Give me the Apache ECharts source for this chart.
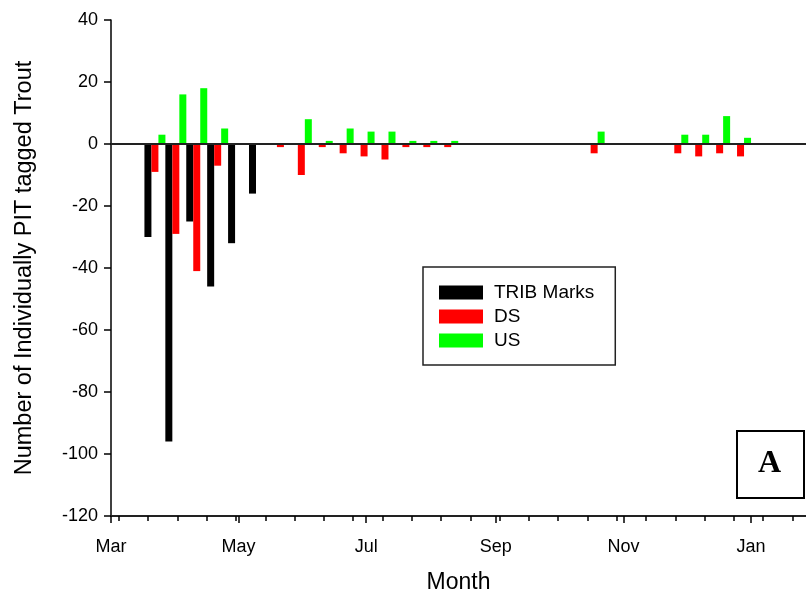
<!DOCTYPE html>
<html>
<head>
<meta charset="utf-8">
<title>PIT tagged trout movements</title>
<script src="https://cdn.jsdelivr.net/npm/echarts@6/dist/echarts.min.js"></script>
<style>
  html, body { margin: 0; padding: 0; background: #fff; }
  #chart { width: 806px; height: 595px; }
</style>
</head>
<body>
<div id="chart"></div>
<script>
// Sampling dates, as days after 1 March (10-day periods)
const sampleDays = [21, 31, 41, 51, 61, 71, 81, 91, 101, 111, 121, 131, 141, 151, 161, 231, 271, 281, 291, 301];

// Counts per period (null = nothing recorded)
const tribMarks = [-30, -96, -25, -46, -32, -16, null, null, null, null, null, null, null, null, null, null, null, null, null, null];
const dsCounts  = [-9, -29, -41, -7, null, null, -1, -10, -1, -3, -4, -5, -1, -1, -1, -3, -3, -4, -3, -4];
const usCounts  = [3, 16, 18, 5, null, null, null, 8, 1, 5, 4, 4, 1, 1, 1, 4, 3, 3, 9, 2];

// Month ticks (days after 1 March) and their labels
const monthTickDays   = [0, 61, 122, 184, 245, 306];
const monthTickLabels = ['Mar', 'May', 'Jul', 'Sep', 'Nov', 'Jan'];

// Fortnightly minor ticks
const fortnightTicks = [];
for (let d = 3.8; d < 332; d += 14) fortnightTicks.push(d);

const xMax = 332.3;
const font = "'Liberation Sans', Arial, sans-serif";

function pairs(values) {
  return sampleDays.map((d, i) => [d, values[i] === null ? '-' : values[i]]);
}

const chart = echarts.init(document.getElementById('chart'), null, { renderer: 'canvas' });

const barCommon = {
  type: 'bar',
  barWidth: 7,
  barGap: '0%',
  xAxisIndex: 0,
  yAxisIndex: 0
};

chart.setOption({
  animation: false,
  backgroundColor: '#fff',
  grid: { left: 111, right: 0, top: 20, bottom: 79, containLabel: false, outerBoundsMode: 'none' },
  xAxis: [
    {
      type: 'value',
      min: 0,
      max: xMax,
      name: 'Month',
      nameLocation: 'middle',
      nameGap: 55,
      nameTextStyle: { fontFamily: font, fontSize: 23, color: '#000' },
      axisLine: { show: true, onZero: false, lineStyle: { color: '#222', width: 2 } },
      axisTick: { show: true, length: 7, lineStyle: { color: '#000', width: 1.5 }, customValues: monthTickDays },
      axisLabel: {
        show: true,
        margin: 22,
        fontFamily: font,
        fontSize: 18,
        color: '#000',
        customValues: monthTickDays,
        formatter: v => {
          const i = monthTickDays.indexOf(v);
          return i >= 0 ? monthTickLabels[i] : '';
        }
      },
      splitLine: { show: false }
    },
    {
      type: 'value',
      min: 0,
      max: xMax,
      position: 'bottom',
      axisLine: { show: false, onZero: false },
      axisTick: { show: true, length: 5, lineStyle: { color: '#000', width: 1.5 }, customValues: fortnightTicks },
      axisLabel: { show: false },
      splitLine: { show: false }
    }
  ],
  yAxis: {
    type: 'value',
    min: -120,
    max: 40,
    interval: 20,
    name: 'Number of Individually PIT tagged Trout',
    nameLocation: 'middle',
    nameGap: 74,
    nameTextStyle: { fontFamily: font, fontSize: 23.5, color: '#000' },
    axisLine: { show: true, onZero: false, lineStyle: { color: '#000', width: 1.5 } },
    axisTick: { show: true, length: 7, lineStyle: { color: '#000', width: 1.5 } },
    axisLabel: { margin: 13, fontFamily: font, fontSize: 18, color: '#000' },
    splitLine: { show: false }
  },
  legend: {
    orient: 'vertical',
    left: 423,
    top: 267,
    icon: 'rect',
    itemWidth: 44,
    itemHeight: 14,
    itemGap: 5,
    padding: [16, 21, 15, 16],
    borderColor: '#222',
    borderWidth: 1.5,
    backgroundColor: '#fff',
    textStyle: { fontFamily: font, fontSize: 19, color: '#000', padding: [0, 0, 0, 6] },
    data: ['TRIB Marks', 'DS', 'US']
  },
  series: [
    Object.assign({}, barCommon, {
      name: 'TRIB Marks',
      itemStyle: { color: '#000000' },
      data: pairs(tribMarks),
      markLine: {
        silent: true,
        symbol: 'none',
        label: { show: false },
        lineStyle: { color: '#222', width: 2, type: 'solid' },
        data: [{ yAxis: 0 }]
      }
    }),
    Object.assign({}, barCommon, {
      name: 'DS',
      itemStyle: { color: '#ff0000' },
      data: pairs(dsCounts)
    }),
    Object.assign({}, barCommon, {
      name: 'US',
      itemStyle: { color: '#00ff00' },
      data: pairs(usCounts)
    })
  ],
  graphic: [
    {
      type: 'rect',
      left: 736,
      top: 430,
      shape: { width: 67, height: 67 },
      style: { fill: '#fff', stroke: '#000', lineWidth: 2 }
    },
    {
      type: 'text',
      x: 769.5,
      y: 464,
      style: {
        text: 'A',
        font: "bold 32px 'Liberation Serif', 'Times New Roman', serif",
        fill: '#000',
        align: 'center',
        verticalAlign: 'middle'
      }
    }
  ]
});
</script>
</body>
</html>
